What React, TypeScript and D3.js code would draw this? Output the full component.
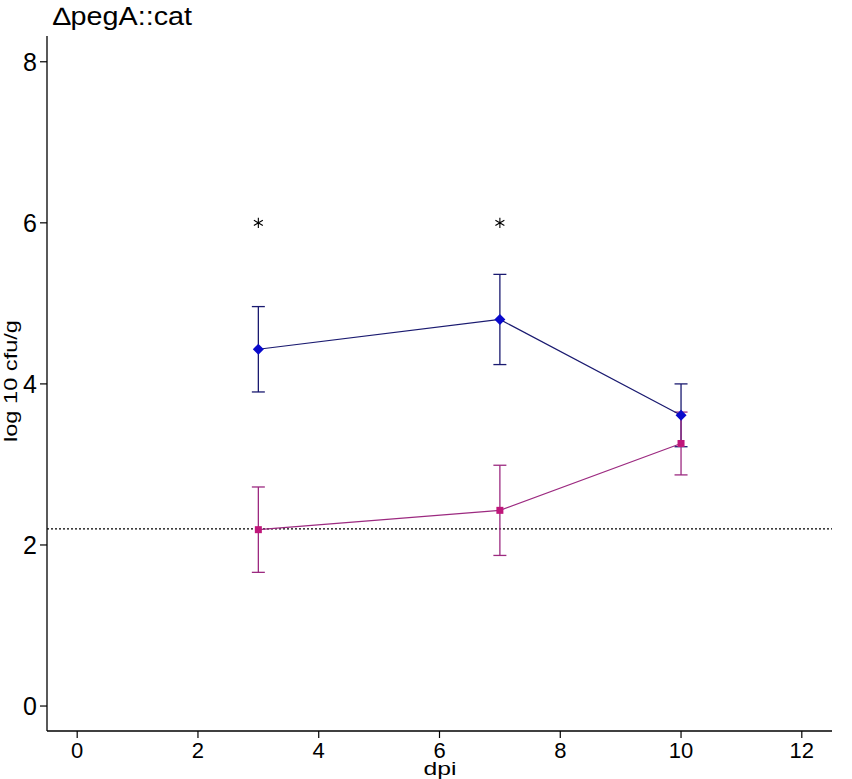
import React from "react";
import * as d3 from "d3";

const days = [3, 7, 10];
const blueMean = [4.43, 4.8, 3.61];
const blueSE = [0.53, 0.56, 0.39];
const magMean = [2.19, 2.43, 3.26];
const magSE = [0.53, 0.56, 0.39];
const sigDays = [3, 7];
const sigY = 6;
const detectionLimit = 2.2;
const xTicks = [0, 2, 4, 6, 8, 10, 12];
const yTicks = [0, 2, 4, 6, 8];

const W = 852, H = 779;
const left = 47, right = 832, top = 36, bottom = 731;

export default function App() {
  const x = d3.scaleLinear().domain([-0.5, 12.5]).range([left, right]);
  const y = d3.scaleLinear().domain([-0.31, 8.32]).range([bottom, top]);
  const line = d3.line<number>().x((_, i) => x(days[i])).y((d) => y(d));
  const star = d3.symbol().type(d3.symbolAsterisk).size(75)() || "";
  const font = "Arial, 'Liberation Sans', sans-serif";
  const blueLine = "#1a1a70";
  const blueMark = "#0a0acc";
  const magLine = "#9c2a80";
  const magMark = "#c0167a";

  const errBars = (mean: number[], se: number[], color: string) =>
    mean.map((m, i) => {
      const cx = x(days[i]);
      const y1 = y(m + se[i]), y2 = y(m - se[i]);
      return (
        <g key={i} stroke={color} strokeWidth={1.3}>
          <line x1={cx} x2={cx} y1={y1} y2={y2} />
          <line x1={cx - 6.5} x2={cx + 6.5} y1={y1} y2={y1} />
          <line x1={cx - 6.5} x2={cx + 6.5} y1={y2} y2={y2} />
        </g>
      );
    });

  return (
    <svg width={W} height={H} style={{ position: "absolute", left: 0, top: 0, background: "#fff" }} fontFamily={font}>
      <rect width={W} height={H} fill="#fff" />
      <text x={53} y={25} fontSize={25} textLength={139} lengthAdjust="spacingAndGlyphs">∆pegA::cat</text>
      {/* axes */}
      <line x1={left} x2={left} y1={top} y2={bottom} stroke="#000" strokeWidth={1.3} />
      <line x1={left} x2={right} y1={bottom} y2={bottom} stroke="#000" strokeWidth={1.3} />
      {yTicks.map((t) => (
        <g key={t}>
          <line x1={left - 7} x2={left} y1={y(t)} y2={y(t)} stroke="#000" strokeWidth={1.2} />
          <text x={left - 10} y={y(t) + 9} fontSize={25} textAnchor="end">{t}</text>
        </g>
      ))}
      {xTicks.map((t) => (
        <g key={t}>
          <line x1={x(t)} x2={x(t)} y1={bottom} y2={bottom + 7} stroke="#000" strokeWidth={1.2} />
          <text x={x(t)} y={bottom + 27} fontSize={22} textAnchor="middle">{t}</text>
        </g>
      ))}
      <text x={440} y={775} fontSize={18} textAnchor="middle" textLength={33} lengthAdjust="spacingAndGlyphs">dpi</text>
      <text transform={`translate(17, 381) rotate(-90)`} fontSize={18} textAnchor="middle" textLength={122} lengthAdjust="spacingAndGlyphs">log 10 cfu/g</text>
      {/* detection limit */}
      <line x1={left} x2={right} y1={y(detectionLimit)} y2={y(detectionLimit)} stroke="#000" strokeWidth={1.2} strokeDasharray="2,2" />
      {/* error bars */}
      {errBars(blueMean, blueSE, blueLine)}
      {errBars(magMean, magSE, magLine)}
      {/* lines */}
      <path d={line(blueMean) || ""} fill="none" stroke={blueLine} strokeWidth={1.2} />
      <path d={line(magMean) || ""} fill="none" stroke={magLine} strokeWidth={1.2} />
      {/* markers */}
      {blueMean.map((m, i) => {
        const cx = x(days[i]), cy = y(m);
        return <path key={i} d={`M${cx},${cy - 5.5}L${cx + 5.5},${cy}L${cx},${cy + 5.5}L${cx - 5.5},${cy}Z`} fill={blueMark} />;
      })}
      {magMean.map((m, i) => (
        <rect key={i} x={x(days[i]) - 3.5} y={y(m) - 3.5} width={7} height={7} fill={magMark} />
      ))}
      {/* significance */}
      {sigDays.map((d) => (
        <path key={d} d={star} transform={`translate(${x(d)},${y(sigY)})`} fill="none" stroke="#000" strokeWidth={1.1} />
      ))}
    </svg>
  );
}
